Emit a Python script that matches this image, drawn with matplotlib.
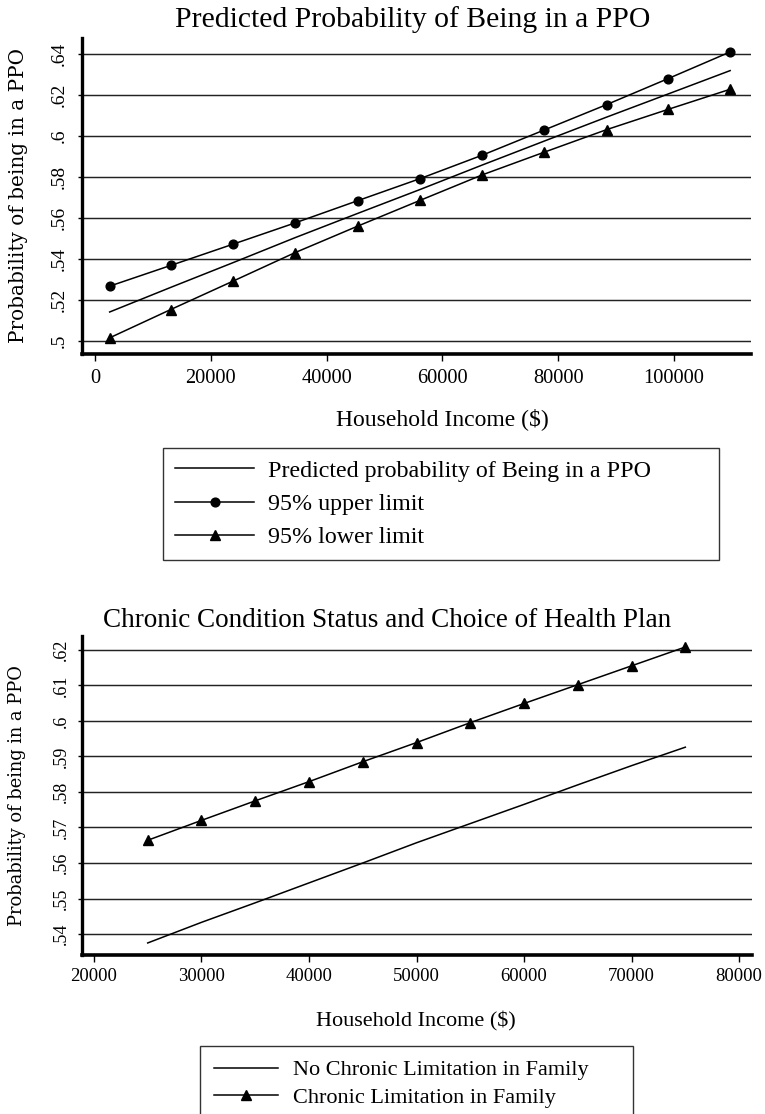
import matplotlib
matplotlib.use("Agg")
import matplotlib.pyplot as plt

plt.rcParams['font.family'] = ['Liberation Serif', 'DejaVu Serif']

# ---- data ------------------------------------------------------------------
# panel 1: predicted probability with 95% band
top_income = [2530, 13080, 23880, 34520, 45400, 56120, 66920, 77470, 88350, 98990, 109700]
top_pred = [.5142, .5262, .5383, .5504, .5623, .5739, .5859, .5974, .6092, .6205, .6319]
top_upper = [.5268, .5369, .5473, .5576, .5685, .5792, .5907, .6028, .6153, .6280, .6410]
top_lower = [.5016, .5154, .5293, .5431, .5561, .5686, .5811, .5920, .6031, .6130, .6228]
top_xticks = [0, 20000, 40000, 60000, 80000, 100000]
top_yticks = [.50, .52, .54, .56, .58, .60, .62, .64]
top_labels = ['Predicted probability of Being in a PPO', '95% upper limit', '95% lower limit']

# panel 2: chronic condition status
bot_income = [25000, 30000, 35000, 40000, 45000, 50000, 55000, 60000, 65000, 70000, 75000]
bot_none = [.5375, .5433, .5488, .5544, .5600, .5657, .5711, .5765, .5820, .5874, .5926]
bot_chronic = [.5664, .5720, .5775, .5829, .5885, .5939, .5995, .6049, .6102, .6155, .6208]
bot_xticks = [20000, 30000, 40000, 50000, 60000, 70000, 80000]
bot_yticks = [.54, .55, .56, .57, .58, .59, .60, .61, .62]
bot_labels = ['No Chronic Limitation in Family', 'Chronic Limitation in Family']


def stata_fmt(v):
    # .50 -> .5, .62 -> .62
    return f"{v:.2f}".rstrip('0').lstrip('0')


def style_axes(ax, xticks, yticks, xfs, yfs, xpad, ypad):
    for s in ['top', 'right']:
        ax.spines[s].set_visible(False)
    ax.spines['left'].set_linewidth(2.4)
    ax.spines['bottom'].set_linewidth(2.6)
    ax.set_xticks(xticks)
    ax.set_xticklabels([str(t) for t in xticks], fontsize=xfs)
    ax.set_yticks(yticks)
    ax.set_yticklabels([stata_fmt(t) for t in yticks], fontsize=yfs,
                       rotation=90, va='center')
    ax.tick_params(axis='x', direction='out', length=5, width=1, pad=xpad)
    ax.tick_params(axis='y', direction='out', length=3, width=1, pad=ypad)
    for t in yticks:
        ax.axhline(t, color='#222222', lw=1.05, zorder=1)


fig = plt.figure(figsize=(7.65, 11.14), dpi=100)

# =========================================================================
# panel 1
# =========================================================================
ax1 = fig.add_axes([0.1068, 0.6822, 0.8749, 0.2837])
ax1.plot(top_income, top_pred, color='black', lw=1.1, zorder=3, label=top_labels[0])
ax1.plot(top_income, top_upper, color='black', lw=1.1, marker='o', markersize=6.3,
         zorder=3, label=top_labels[1])
ax1.plot(top_income, top_lower, color='black', lw=1.1, marker='^', markersize=7.5,
         zorder=3, label=top_labels[2])
ax1.set_xlim(-2300, 113300)
ax1.set_ylim(.4937, .6478)
style_axes(ax1, top_xticks, top_yticks, 14.7, 14, 6, 7)

ax1.set_title('Predicted Probability of Being in a PPO', fontsize=21.3,
              x=0.495, y=1.0358, va='baseline', pad=0)
ax1.set_xlabel('Household Income ($)', fontsize=17, va='baseline')
ax1.xaxis.set_label_coords(0.5383, -0.2247)
ax1.set_ylabel('Probability of being in a PPO', fontsize=14.4,
               family=['DejaVu Serif'], va='center')
ax1.yaxis.set_label_coords(-0.0937, 0.503)

leg1 = ax1.legend(loc='upper left', bbox_to_anchor=(0.1215, -0.2975, 0.8307, 0),
                  mode='expand', borderaxespad=0, fontsize=17.3, frameon=True,
                  fancybox=False, edgecolor='black', borderpad=0.5,
                  labelspacing=0.47, handlelength=3.3, handletextpad=0.55)
leg1.get_frame().set_linewidth(1.0)

# =========================================================================
# panel 2
# =========================================================================
ax2 = fig.add_axes([0.1068, 0.1427, 0.8762, 0.2864])
ax2.plot(bot_income, bot_none, color='black', lw=1.1, zorder=3, label=bot_labels[0])
ax2.plot(bot_income, bot_chronic, color='black', lw=1.1, marker='^', markersize=7,
         zorder=3, label=bot_labels[1])
ax2.set_xlim(18860, 81200)
ax2.set_ylim(.5341, .6239)
style_axes(ax2, bot_xticks, bot_yticks, 13.5, 13, 4.5, 5.5)

ax2.set_title('Chronic Condition Status and Choice of Health Plan', fontsize=19.5,
              x=0.4555, y=1.0292, va='baseline', pad=0)
ax2.set_xlabel('Household Income ($)', fontsize=16, va='baseline')
ax2.xaxis.set_label_coords(0.4987, -0.2226)
ax2.set_ylabel('Probability of being in a PPO', fontsize=12.9,
               family=['DejaVu Serif'], va='center')
ax2.yaxis.set_label_coords(-0.097, 0.5)

leg2 = ax2.legend(loc='upper left', bbox_to_anchor=(0.1765, -0.2853, 0.646, 0),
                  mode='expand', borderaxespad=0, fontsize=16, frameon=True,
                  fancybox=False, edgecolor='black', borderpad=0.62,
                  labelspacing=0.32, handlelength=2.9, handletextpad=0.68)
leg2.get_frame().set_linewidth(1.0)

fig.savefig('out.png', dpi=100)
